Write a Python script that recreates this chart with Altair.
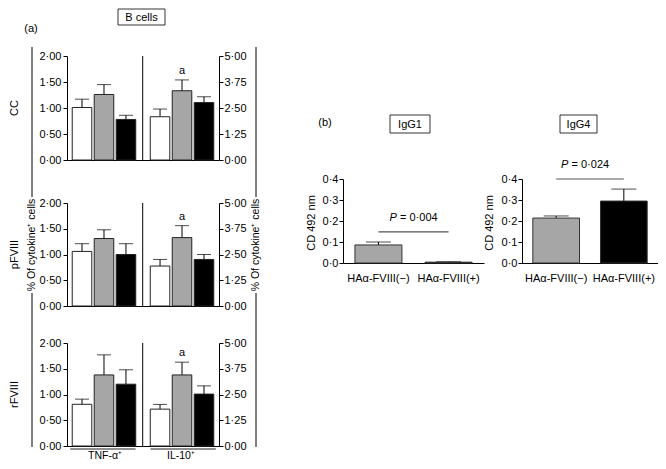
import altair as alt
import pandas as pd

FONT = "Liberation Sans"
W, H = 650, 453

# ---------------- data: panel (a) B cells ----------------
rows = ["CC", "pFVIII", "rFVIII"]
cytokines = ["TNF-α⁺", "IL-10⁺"]
groups = ["Group 1", "Group 2", "Group 3"]
group_colors = ["#ffffff", "#a6a6a6", "#000000"]
tnf_mean = [[1.01, 1.26, 0.78], [1.06, 1.31, 1.00], [0.81, 1.38, 1.20]]
tnf_upper = [[1.17, 1.45, 0.86], [1.21, 1.48, 1.21], [0.91, 1.77, 1.48]]
il10_mean = [[2.08, 3.33, 2.76], [1.94, 3.32, 2.26], [1.79, 3.45, 2.52]]
il10_upper = [[2.45, 3.85, 3.04], [2.26, 3.90, 2.50], [2.02, 4.07, 2.92]]
il10_sig = [["", "a", ""], ["", "a", ""], ["", "a", ""]]
tnf_ticks = [0, 0.5, 1.0, 1.5, 2.0]
il10_ticks = [0, 1.25, 2.5, 3.75, 5.0]
title_a = "B cells"
y_title_a = "% Of cytokine⁺ cells"

# ---------------- data: panel (b) ----------------
ig_panels = ["IgG1", "IgG4"]
ig_groups = ["HAα-FVIII(−)", "HAα-FVIII(+)"]
ig_colors = ["#a6a6a6", "#000000"]
ig_mean = [[0.086, 0.004], [0.214, 0.295]]
ig_upper = [[0.100, 0.006], [0.224, 0.352]]
ig_p_text = ["= 0·004", "= 0·024"]
ig_p_height = [0.148, 0.40]
ig_ticks = [0, 0.1, 0.2, 0.3, 0.4]
y_title_b = "CD 492 nm"

# ---------------- layout (pixels, view coordinates) ----------------
A_X = [59, 211]
A_ROWS_Y = [(152, 48), (298, 195), (438, 335)]
A_DIV_X = 134.7
A_OUT_L, A_OUT_R = 24, 248
A_LABEL_Y = 451
B_X = [(335, 476), (514, 650)]
B_PAD = [(0.33, 0.17), (0.31, 0.16)]
B_Y = (255, 171)
B_PCX = [405.5, 577]
B_TITLE_X = [304, 482]
B_BOX = [(382, 422), (552, 589)]

fmt2 = "replace(format(datum.value, '.2f'), '.', '·')"
fmt1 = "replace(format(datum.value, '.1f'), '.', '·')"
one = pd.DataFrame({"k": [0]})

layers = []


def ax_a(axis=None, po=0.067):
    return alt.X("cytokine:N",
                 scale=alt.Scale(domain=cytokines, range=A_X, paddingInner=0.186, paddingOuter=po),
                 axis=axis)


def xo_a():
    return alt.XOffset("group:N", scale=alt.Scale(domain=groups, paddingInner=0.11, paddingOuter=0))


def col_a():
    return alt.Color("group:N", scale=alt.Scale(domain=groups, range=group_colors), legend=None)


for i, rname in enumerate(rows):
    y0, y1 = A_ROWS_Y[i]
    tnf = pd.DataFrame({"cytokine": cytokines[0], "group": groups,
                        "mean": tnf_mean[i], "upper": tnf_upper[i]})
    il = pd.DataFrame({"cytokine": cytokines[1], "group": groups,
                       "mean": il10_mean[i], "upper": il10_upper[i], "sig": il10_sig[i]})
    for df, dom, ticks, orient, off, pad in [
        (tnf, [0, 2], tnf_ticks, "left", -A_X[0], 2),
        (il, [0, 5], il10_ticks, "right", A_X[1] - W, 1),
    ]:
        def ysc(field, axis=None, dom=dom):
            return alt.Y(field, scale=alt.Scale(domain=dom, range=[y0, y1], nice=False), axis=axis)
        yaxis = alt.Axis(orient=orient, offset=off, values=ticks, labelExpr=fmt2,
                         tickSize=4, labelPadding=pad, title=None)
        xaxis = None
        if orient == "left":
            xaxis = alt.Axis(orient="bottom", offset=y0 - H, ticks=False, labels=False, title=None)
        layers.append(alt.Chart(df).mark_rule(color="black", strokeWidth=1).encode(
            x=ax_a(), xOffset=xo_a(), y=ysc("mean:Q"), y2="upper:Q"))
        layers.append(alt.Chart(df).mark_tick(color="black", size=14, thickness=1).encode(
            x=ax_a(), xOffset=xo_a(), y=ysc("upper:Q")))
        layers.append(alt.Chart(df).mark_bar(stroke="#222222", strokeWidth=1).encode(
            x=ax_a(xaxis), xOffset=xo_a(), y=ysc("mean:Q", yaxis), color=col_a()))
        if orient == "right":
            sig = df[df["sig"] != ""]
            layers.append(alt.Chart(sig).mark_text(dy=-9, fontSize=11, color="black").encode(
                x=ax_a(), xOffset=xo_a(), y=ysc("upper:Q"), text="sig:N"))
    # divider between the two cytokines
    layers.append(alt.Chart(one).mark_rule(color="black", strokeWidth=1).encode(
        x=alt.value(A_DIV_X), y=alt.value(y0), y2=alt.value(y1)))
    # row label
    layers.append(alt.Chart(one).mark_text(angle=270, fontSize=11, color="black").encode(
        x=alt.value(7), y=alt.value((y0 + y1) / 2), text=alt.value(rname)))

# brackets and labels under the cytokine groups (bottom row)
cyto_df = pd.DataFrame({"cytokine": cytokines})
layers.append(alt.Chart(cyto_df).mark_rect(color="#222222").encode(
    x=ax_a(po=0.04), y=alt.value(440.5), y2=alt.value(441.5)))
layers.append(alt.Chart(cyto_df).mark_text(fontSize=10.5, baseline="alphabetic", color="black").encode(
    x=ax_a(), y=alt.value(A_LABEL_Y), text="cytokine:N"))

# outer frame lines with shared axis title
for xo in (A_OUT_L, A_OUT_R):
    layers.append(alt.Chart(one).mark_rule(color="black", strokeWidth=1).encode(
        x=alt.value(xo), y=alt.value(39), y2=alt.value(189)))
    layers.append(alt.Chart(one).mark_rule(color="black", strokeWidth=1).encode(
        x=alt.value(xo), y=alt.value(285), y2=alt.value(439)))
    layers.append(alt.Chart(one).mark_text(angle=270, fontSize=10.5, color="black").encode(
        x=alt.value(xo), y=alt.value(237), text=alt.value(y_title_a)))

# "B cells" box and "(a)" / "(b)"
layers.append(alt.Chart(one).mark_rect(fillOpacity=0, stroke="black", strokeWidth=0.8).encode(
    x=alt.value(110), x2=alt.value(157), y=alt.value(1), y2=alt.value(17)))
layers.append(alt.Chart(one).mark_text(fontSize=11, color="black").encode(
    x=alt.value(133.5), y=alt.value(9.5), text=alt.value(title_a)))
layers.append(alt.Chart(one).mark_text(fontSize=11, color="black").encode(
    x=alt.value(23), y=alt.value(21), text=alt.value("(a)")))
layers.append(alt.Chart(one).mark_text(fontSize=11, color="black").encode(
    x=alt.value(317), y=alt.value(115), text=alt.value("(b)")))

# ---------------- panel (b) ----------------
for k, pname in enumerate(ig_panels):
    pi, po = B_PAD[k]

    def xb(field="grp:N", axis=None, k=k, pi=pi, po=po):
        return alt.X(field, scale=alt.Scale(domain=ig_groups, range=list(B_X[k]),
                                            paddingInner=pi, paddingOuter=po), axis=axis)

    def yb(field, axis=None):
        return alt.Y(field, scale=alt.Scale(domain=[0, 0.4], range=list(B_Y), nice=False), axis=axis)

    df = pd.DataFrame({"grp": ig_groups, "mean": ig_mean[k], "upper": ig_upper[k]})
    yaxis = alt.Axis(orient="left", offset=-B_X[k][0], values=ig_ticks, labelExpr=fmt1,
                     tickSize=4, labelPadding=1, title=None)
    xaxis = alt.Axis(orient="bottom", offset=B_Y[0] - H, ticks=False, tickSize=0, labelPadding=9,
                     title=None, labelAngle=0)
    layers.append(alt.Chart(df).mark_rule(color="black", strokeWidth=1).encode(
        x=xb(), y=yb("mean:Q"), y2="upper:Q"))
    layers.append(alt.Chart(df).mark_tick(color="black", size=25, thickness=1).encode(
        x=xb(), y=yb("upper:Q")))
    layers.append(alt.Chart(df).mark_bar(stroke="#333333", strokeWidth=1).encode(
        x=xb(axis=xaxis), y=yb("mean:Q", yaxis),
        color=alt.Color("grp:N", scale=alt.Scale(domain=ig_groups, range=ig_colors), legend=None)))
    pdf = pd.DataFrame({"g1": [ig_groups[0]], "g2": [ig_groups[1]], "h": [ig_p_height[k]]})
    layers.append(alt.Chart(pdf).mark_rule(color="#555555", strokeWidth=1.2).encode(
        x=xb("g1:N"), x2="g2:N", y=yb("h:Q")))
    layers.append(alt.Chart(pdf).mark_text(fontSize=11, fontStyle="italic", align="left",
                                           dy=-14, color="black").encode(
        x=alt.value(B_PCX[k] - 24), y=yb("h:Q"), text=alt.value("P")))
    layers.append(alt.Chart(pdf).mark_text(fontSize=11, align="left", dy=-14, color="black").encode(
        x=alt.value(B_PCX[k] - 13.5), y=yb("h:Q"), text=alt.value(ig_p_text[k])))
    # axis title
    layers.append(alt.Chart(one).mark_text(angle=270, fontSize=11, color="black").encode(
        x=alt.value(B_TITLE_X[k]), y=alt.value(215), text=alt.value(y_title_b)))
    # boxed panel label
    bx0, bx1 = B_BOX[k]
    layers.append(alt.Chart(one).mark_rect(fillOpacity=0, stroke="black", strokeWidth=0.8).encode(
        x=alt.value(bx0), x2=alt.value(bx1), y=alt.value(107), y2=alt.value(125)))
    layers.append(alt.Chart(one).mark_text(fontSize=11, color="black").encode(
        x=alt.value((bx0 + bx1) / 2), y=alt.value(116.5), text=alt.value(pname)))

chart = alt.layer(*layers).resolve_scale(
    x="independent", y="independent", xOffset="independent", color="independent"
).properties(
    width=W, height=H, autosize=alt.AutoSizeParams(type="none"), padding=0
).configure_view(stroke=None).configure_axis(
    labelFont=FONT, labelFontSize=11, labelColor="black", domainColor="black",
    tickColor="black", domainWidth=1, tickWidth=1, grid=False
).configure_text(font=FONT, fontSize=11)

chart.save("out.html", embed_options={"renderer": "svg", "actions": False})
